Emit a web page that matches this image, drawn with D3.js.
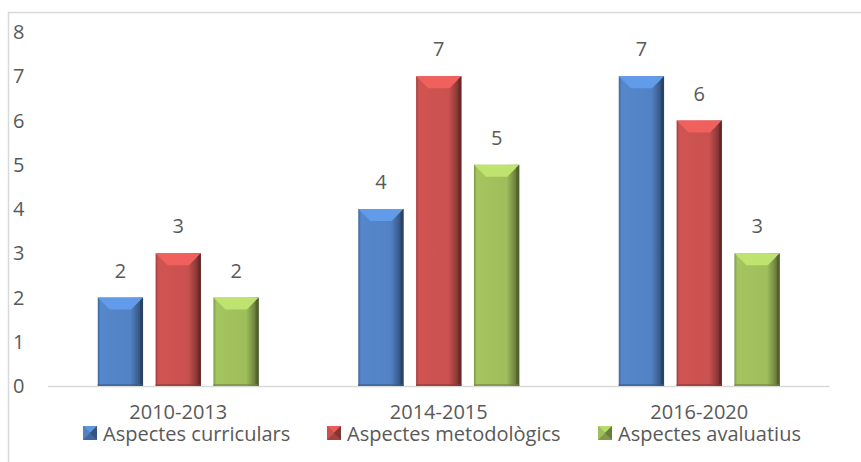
<!DOCTYPE html>
<html>
<head>
<meta charset="utf-8">
<script src="https://cdn.jsdelivr.net/npm/d3@7/dist/d3.min.js"></script>
<style>
  body { margin: 0; background: #fff; }
  text { font-family: "Open Sans", "Noto Sans", sans-serif; fill: #595959; }
</style>
</head>
<body>
<svg id="chart" width="861" height="462"></svg>
<script>

var periods = ["2010-2013", "2014-2015", "2016-2020"];
var seriesNames = ["Aspectes curriculars", "Aspectes metodològics", "Aspectes avaluatius"];
var curriculars = [2, 4, 7];
var metodologics = [3, 7, 6];
var avaluatius = [2, 5, 3];
var yTicks = [0, 1, 2, 3, 4, 5, 6, 7, 8];

var colors = ["#5282c4", "#c9514f", "#9fbe5c"];
var seriesVals = [curriculars, metodologics, avaluatius];

var svg = d3.select("#chart");
var defs = svg.append("defs");

// frame (top and left only)
svg.append("path")
    .attr("d", "M8.5,462 L8.5,12.5 L861,12.5")
    .attr("fill", "none")
    .attr("stroke", "#d9d9d9")
    .attr("stroke-width", 1.5);

var x = d3.scaleBand()
    .domain(periods)
    .range([48, 829.5]);

var x1 = d3.scaleBand()
    .domain(seriesNames)
    .range([0, x.bandwidth()])
    .paddingInner(0.217)
    .paddingOuter(0.86);

var y = d3.scaleLinear()
    .domain([0, 8])
    .range([386, 32]);

// y tick labels
svg.append("g").selectAll("text")
    .data(yTicks)
    .enter().append("text")
      .attr("x", 13)
      .attr("y", d => y(d))
      .attr("dy", "0.36em")
      .style("font-size", "20px")
      .text(d => d);

// axis line
svg.append("line")
    .attr("x1", 48).attr("x2", 829.5)
    .attr("y1", y(0) + 0.5).attr("y2", y(0) + 0.5)
    .attr("stroke", "#d9d9d9")
    .attr("stroke-width", 1.5);

// gradients for bevel sides
colors.forEach(function(c, i) {
  var base = d3.color(c);
  var g = defs.append("linearGradient")
      .attr("id", "grad" + i)
      .attr("x1", "0").attr("x2", "1").attr("y1", "0").attr("y2", "0");
  g.append("stop").attr("offset", "0").attr("stop-color", base.darker(0.7));
  g.append("stop").attr("offset", "0.06").attr("stop-color", base.brighter(0.1));
  g.append("stop").attr("offset", "0.72").attr("stop-color", base);
  g.append("stop").attr("offset", "0.84").attr("stop-color", base.darker(0.6));
  g.append("stop").attr("offset", "1").attr("stop-color", base.darker(1.8));
});

var bev = 12;

var groups = svg.append("g").selectAll("g")
    .data(periods)
    .enter().append("g")
      .attr("transform", d => "translate(" + x(d) + ",0)");

groups.each(function(p, pi) {
  var gp = d3.select(this);
  seriesNames.forEach(function(s, si) {
    var v = seriesVals[si][pi];
    var bx = x1(s), bw = x1.bandwidth();
    var top = y(v), bot = y(0);
    var base = d3.color(colors[si]);
    var b = gp.append("g");
    b.append("rect")
        .attr("x", bx).attr("y", top)
        .attr("width", bw).attr("height", bot - top)
        .attr("fill", "url(#grad" + si + ")");
    // top bevel
    b.append("path")
        .attr("d", "M" + bx + "," + top + " L" + (bx + bw) + "," + top +
                   " L" + (bx + bw - bev) + "," + (top + bev) +
                   " L" + (bx + bev) + "," + (top + bev) + "Z")
        .attr("fill", base.brighter(0.5));
    // right bevel shade
    b.append("path")
        .attr("d", "M" + (bx + bw) + "," + top + " L" + (bx + bw) + "," + bot +
                   " L" + (bx + bw - 3) + "," + bot +
                   " L" + (bx + bw - 3) + "," + (top + 3) + "Z")
        .attr("fill", base.darker(2))
        .attr("opacity", 0.7);
    // bottom edge shade
    b.append("rect")
        .attr("x", bx).attr("y", bot - 2)
        .attr("width", bw).attr("height", 2)
        .attr("fill", base.darker(1))
        .attr("opacity", 0.6);
    // value label
    gp.append("text")
        .attr("x", bx + bw / 2)
        .attr("y", top - 20)
        .attr("text-anchor", "middle")
        .style("font-size", "20px")
        .text(v);
  });
});

// category labels
svg.append("g").selectAll("text")
    .data(periods)
    .enter().append("text")
      .attr("x", d => x(d) + x.bandwidth() / 2)
      .attr("y", 419)
      .attr("text-anchor", "middle")
      .style("font-size", "20px")
      .text(d => d);

// legend
var legendX = [83, 327, 598];
var leg = svg.append("g").selectAll("g")
    .data(seriesNames)
    .enter().append("g")
      .attr("transform", (d, i) => "translate(" + legendX[i] + ",426)");

leg.each(function(s, i) {
  var g = d3.select(this);
  var base = d3.color(colors[i]);
  g.append("rect").attr("x", 0).attr("y", 0).attr("width", 14).attr("height", 14)
      .attr("fill", base.darker(0.6));
  g.append("path").attr("d", "M0,0 L14,0 L7,7Z").attr("fill", base.brighter(0.4));
  g.append("path").attr("d", "M0,0 L7,7 L0,14Z").attr("fill", base);
  g.append("path").attr("d", "M14,0 L14,14 L7,7Z").attr("fill", base.darker(1.2));
  g.append("text")
      .attr("x", 20)
      .attr("y", 8)
      .attr("dy", "0.36em")
      .style("font-size", "20px")
      .text(s);
});

</script>
</body>
</html>
